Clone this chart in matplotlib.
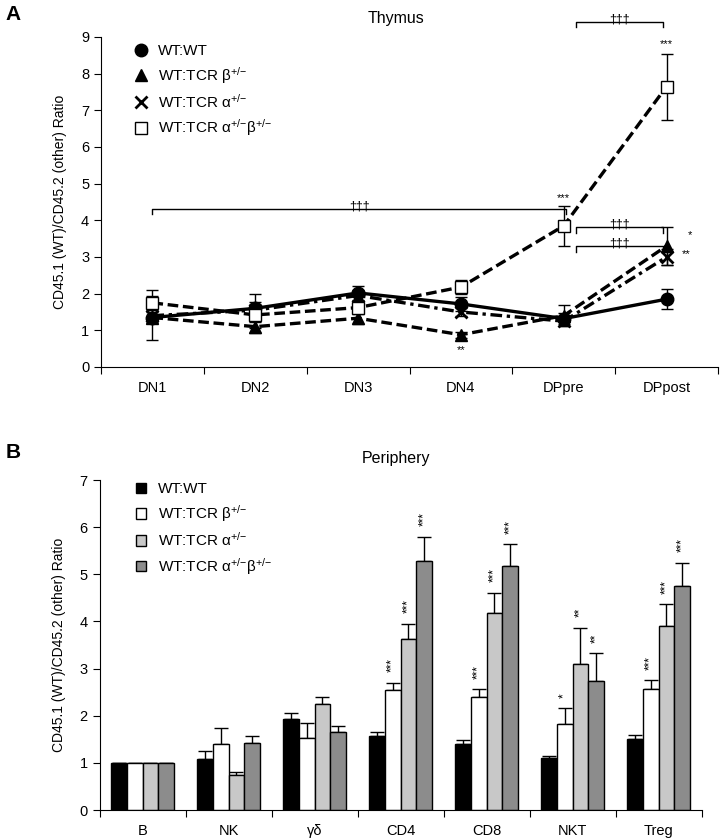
import matplotlib
matplotlib.use('Agg')
import matplotlib.pyplot as plt
from matplotlib.lines import Line2D
from matplotlib.patches import Patch
import numpy as np

plt.rcParams['font.family'] = ['Liberation Sans', 'DejaVu Sans']
plt.rcParams['mathtext.fontset'] = 'custom'
plt.rcParams['mathtext.rm'] = 'Liberation Sans'

# ---- data: thymus ----
stages = ['DN1', 'DN2', 'DN3', 'DN4', 'DPpre', 'DPpost']
groups = ['WT:WT',
          r'WT:TCR β$\mathregular{^{+/{-}}}$',
          r'WT:TCR α$\mathregular{^{+/{-}}}$',
          r'WT:TCR α$\mathregular{^{+/{-}}}$β$\mathregular{^{+/{-}}}$']
thy_wt = [1.35, 1.60, 2.02, 1.72, 1.32, 1.85]
thy_wt_err = [0.60, 0.38, 0.20, 0.20, 0.15, 0.27]
thy_b = [1.35, 1.10, 1.33, 0.88, 1.40, 3.30]
thy_b_err = [0.15, 0.16, 0.17, 0.08, 0.28, 0.53]
thy_a = [1.40, 1.55, 1.95, 1.50, 1.25, 3.00]
thy_a_err = [0.15, 0.15, 0.15, 0.12, 0.12, 0.22]
thy_ab = [1.75, 1.42, 1.62, 2.18, 3.85, 7.65]
thy_ab_err = [0.35, 0.35, 0.17, 0.20, 0.55, 0.90]

# (x, y, text) significance marks for thymus
thy_stars = [(5.0, 8.8, '***'), (4.0, 4.62, '***'), (3.0, 0.45, '**'),
             (5.23, 3.6, '*'), (5.19, 3.08, '**')]
# brackets: (x0, x1, y, drop)
thy_brackets = [(0.0, 4.02, 4.32, 0.16), (4.12, 4.97, 9.42, 0.16),
                (4.12, 4.97, 3.82, 0.16), (4.12, 4.97, 3.30, 0.16)]

# ---- data: periphery ----
cells = ['B', 'NK', 'γδ', 'CD4', 'CD8', 'NKT', 'Treg']
per_wt = [1.00, 1.08, 1.94, 1.56, 1.40, 1.10, 1.50]
per_wt_err = [0.0, 0.17, 0.11, 0.09, 0.09, 0.05, 0.09]
per_b = [1.00, 1.41, 1.52, 2.55, 2.40, 1.82, 2.57]
per_b_err = [0.0, 0.33, 0.32, 0.15, 0.16, 0.34, 0.18]
per_a = [1.00, 0.75, 2.25, 3.63, 4.18, 3.10, 3.90]
per_a_err = [0.0, 0.06, 0.14, 0.32, 0.43, 0.77, 0.47]
per_ab = [1.00, 1.42, 1.66, 5.28, 5.18, 2.74, 4.76]
per_ab_err = [0.0, 0.14, 0.13, 0.52, 0.46, 0.58, 0.49]
# (cell index, group index, text)
per_stars = [(3, 1, '***'), (3, 2, '***'), (3, 3, '***'),
             (4, 1, '***'), (4, 2, '***'), (4, 3, '***'),
             (5, 1, '*'), (5, 2, '**'), (5, 3, '**'),
             (6, 1, '***'), (6, 2, '***'), (6, 3, '***')]

fig = plt.figure(figsize=(7.23, 8.4), dpi=100)

# ================= Panel A =================
axA = fig.add_axes([101/723, 1-367/840, 617/723, 330/840])
x = np.arange(len(stages))
styles = [
    dict(marker='o', ls='-', mfc='black', ms=9),
    dict(marker='^', ls=(0, (3.2, 1.4)), mfc='black', ms=8.5),
    dict(marker='x', ls=(0, (3.5, 1.4, 1, 1.4)), mfc='black', ms=8, mew=2),
    dict(marker='s', ls=(0, (3.2, 1.4)), mfc='white', ms=9, mew=1),
]
series = [(thy_wt, thy_wt_err), (thy_b, thy_b_err), (thy_a, thy_a_err), (thy_ab, thy_ab_err)]
handles = []
for i, ((vals, errs), st) in enumerate(zip(series, styles)):
    axA.errorbar(x, vals, yerr=errs, fmt='none', ecolor='black', elinewidth=1,
                 capsize=4.5, capthick=1, zorder=2 + i)
    axA.plot(x, vals, color='black', lw=2.4, mec='black', zorder=3 + i, **st)
    hst = {k: v for k, v in st.items() if k != 'ls'}
    handles.append(Line2D([], [], color='black', ls='none', mec='black', **hst))

for (x0, x1, y, d) in thy_brackets:
    axA.plot([x0, x0, x1, x1], [y - d, y, y, y - d], color='black', lw=1, clip_on=False)
    axA.text((x0 + x1) / 2, y - 0.1, '†††', ha='center', va='bottom', fontsize=9)
for (xs, ys, t) in thy_stars:
    axA.text(xs, ys, t, ha='center', va='center', fontsize=8)

axA.set_xlim(-0.5, 5.5)
axA.set_ylim(0, 9)
axA.set_yticks(range(0, 10))
axA.set_xticks(np.arange(-0.5, 6.0, 1.0))
axA.set_xticklabels([])
axA.set_xticks(x, minor=True)
axA.set_xticklabels(stages, minor=True)
axA.tick_params(axis='x', which='minor', length=0, pad=10, labelsize=10.5)
axA.tick_params(axis='x', which='major', length=5, direction='out')
axA.tick_params(axis='y', labelsize=10.5, length=5)
axA.spines['top'].set_visible(False)
axA.spines['right'].set_visible(False)
axA.set_ylabel('CD45.1 (WT)/CD45.2 (other) Ratio', fontsize=10, labelpad=10)
axA.legend(handles, groups, loc='upper left', bbox_to_anchor=(0.03, 1.02),
           frameon=False, fontsize=11, handlelength=1.0, handletextpad=0.6,
           labelspacing=0.45)
fig.text(396/723, 1-19/840, 'Thymus', ha='center', va='center', fontsize=11.5)
fig.text(0.008, 1-14/840, 'A', ha='left', va='center', fontsize=15, fontweight='bold')

# ================= Panel B =================
axB = fig.add_axes([99.5/723, 1-810/840, 602/723, 330/840])
xc = np.arange(len(cells))
w = 0.186
colors = ['#000000', '#ffffff', '#c8c8c8', '#8c8c8c']
pseries = [(per_wt, per_wt_err), (per_b, per_b_err), (per_a, per_a_err), (per_ab, per_ab_err)]
for i, ((vals, errs), c) in enumerate(zip(pseries, colors)):
    pos = xc + (i - 1.5) * w
    axB.bar(pos, vals, width=w, color=c, edgecolor='black', linewidth=1, zorder=2)
    axB.errorbar(pos, vals, yerr=[np.zeros(len(errs)), errs], fmt='none',
                 ecolor='black', elinewidth=1, capsize=5, capthick=1, zorder=1)
for (ci, gi, t) in per_stars:
    vals, errs = pseries[gi]
    axB.text(ci + (gi - 1.5) * w, vals[ci] + errs[ci] + 0.22, t, rotation=90,
             ha='center', va='bottom', fontsize=8.5)

axB.set_xlim(-0.5, 6.5)
axB.set_ylim(0, 7)
axB.set_yticks(range(0, 8))
axB.set_xticks(np.arange(-0.5, 7.0, 1.0))
axB.set_xticklabels([])
axB.set_xticks(xc, minor=True)
axB.set_xticklabels(cells, minor=True)
axB.tick_params(axis='x', which='minor', length=0, pad=10, labelsize=10.5)
axB.tick_params(axis='x', which='major', length=5, direction='out')
axB.tick_params(axis='y', labelsize=10.5, length=5)
axB.spines['top'].set_visible(False)
axB.spines['right'].set_visible(False)
axB.set_ylabel('CD45.1 (WT)/CD45.2 (other) Ratio', fontsize=10, labelpad=10)
phandles = [Patch(facecolor=c, edgecolor='black', linewidth=1) for c in colors]
axB.legend(phandles, groups, loc='upper left', bbox_to_anchor=(0.037, 1.035),
           frameon=False, fontsize=11, handlelength=0.7, handleheight=0.7,
           handletextpad=0.75, labelspacing=0.45)
fig.text(396/723, 1-459/840, 'Periphery', ha='center', va='center', fontsize=11.5)
fig.text(0.008, 1-453/840, 'B', ha='left', va='center', fontsize=15, fontweight='bold')

fig.savefig('out.png', dpi=100)
